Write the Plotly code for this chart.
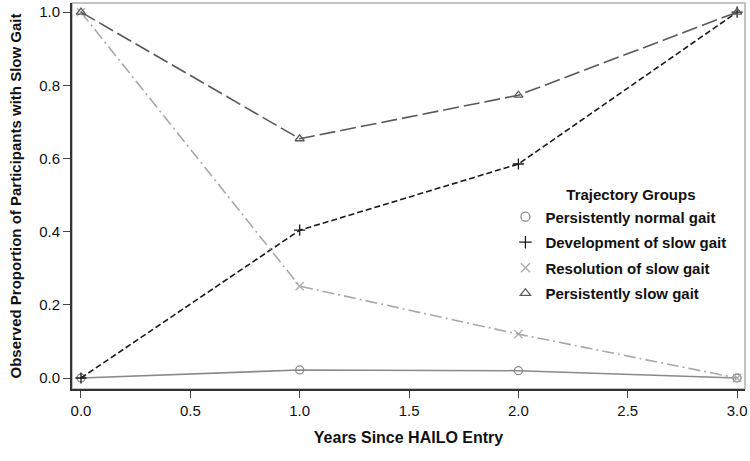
import plotly.graph_objects as go

years = [0, 1, 2, 3]

group_names = [
    "Persistently normal gait",
    "Development of slow gait",
    "Resolution of slow gait",
    "Persistently slow gait",
]

normal_gait = [0.0, 0.022, 0.020, 0.0]
development = [0.0, 0.404, 0.585, 1.0]
resolution = [1.0, 0.251, 0.120, 0.0]
slow_gait = [1.0, 0.654, 0.773, 1.0]

series = [normal_gait, development, resolution, slow_gait]

looks = [
    dict(color="#8a8a8a", dash="solid", symbol="circle-open", width=1.6),
    dict(color="#1a1a1a", dash="6px,3px", symbol="cross-thin-open", width=1.6),
    dict(color="#a8a8a8", dash="12px,4px,2px,4px", symbol="x-thin-open", width=1.6),
    dict(color="#595959", dash="16px,5px", symbol="triangle-up-open", width=1.6),
]

fig = go.Figure()

for name, ys, lk in zip(group_names, series, looks):
    fig.add_trace(go.Scatter(
        x=years, y=ys,
        mode="lines+markers",
        line=dict(color=lk["color"], dash=lk["dash"], width=lk["width"]),
        marker=dict(symbol=lk["symbol"], size=8, color=lk["color"],
                    line=dict(color=lk["color"], width=1.3)),
        showlegend=False,
        legendgroup=name,
    ))
    # legend entry shows only the symbol
    fig.add_trace(go.Scatter(
        x=[None], y=[None],
        mode="markers",
        marker=dict(symbol=lk["symbol"], size=9, color=lk["color"],
                    line=dict(color=lk["color"], width=1.3)),
        name="<b>" + name + "</b>",
        legendgroup=name,
    ))

fig.update_xaxes(
    range=[-0.041, 3.036],
    tickvals=[0, 0.5, 1, 1.5, 2, 2.5, 3],
    ticktext=["0.0", "0.5", "1.0", "1.5", "2.0", "2.5", "3.0"],
    ticks="outside",
    ticklen=7,
    tickcolor="#444444",
    showline=True,
    linecolor="#333333",
    linewidth=2,
    showgrid=False,
    zeroline=False,
    ticklabeloverflow="allow",
    title=dict(text="<b>Years Since HAILO Entry</b>", standoff=14,
               font=dict(size=16, color="#111111")),
    tickfont=dict(size=15, color="#111111"),
)
fig.update_yaxes(
    range=[-0.03, 1.025],
    tickvals=[0, 0.2, 0.4, 0.6, 0.8, 1.0],
    ticktext=["0.0", "0.2", "0.4", "0.6", "0.8", "1.0"],
    ticks="outside",
    ticklen=7,
    tickcolor="#444444",
    showline=True,
    linecolor="#333333",
    linewidth=2,
    showgrid=False,
    zeroline=False,
    title=dict(text="<b>Observed Proportion of Participants with Slow Gait</b>",
               standoff=14, font=dict(size=15, color="#111111")),
    tickfont=dict(size=15, color="#111111"),
)

# light frame on top and right
fig.add_shape(type="rect", xref="paper", yref="paper", x0=0, y0=0, x1=1, y1=1,
              line=dict(color="#b0b0b0", width=1.5), layer="below")

fig.update_layout(
    width=750,
    height=461,
    margin=dict(l=72, r=5, t=3, b=72),
    plot_bgcolor="white",
    paper_bgcolor="white",
    font=dict(family="Liberation Sans, Arial, sans-serif", size=14, color="#111111"),
    legend=dict(
        x=0.644, y=0.539, xanchor="left", yanchor="top",
        title=dict(text="&nbsp;&nbsp;&nbsp;&nbsp;&nbsp;&nbsp;<b>Trajectory Groups</b>",
                   side="top center", font=dict(size=15)),
        font=dict(size=15, color="#111111"),
        bgcolor="rgba(0,0,0,0)",
        itemwidth=30,
        tracegroupgap=3,
    ),
)

fig.write_html("out.html", config={"displayModeBar": False},
               post_script="document.body.style.margin='0';")
